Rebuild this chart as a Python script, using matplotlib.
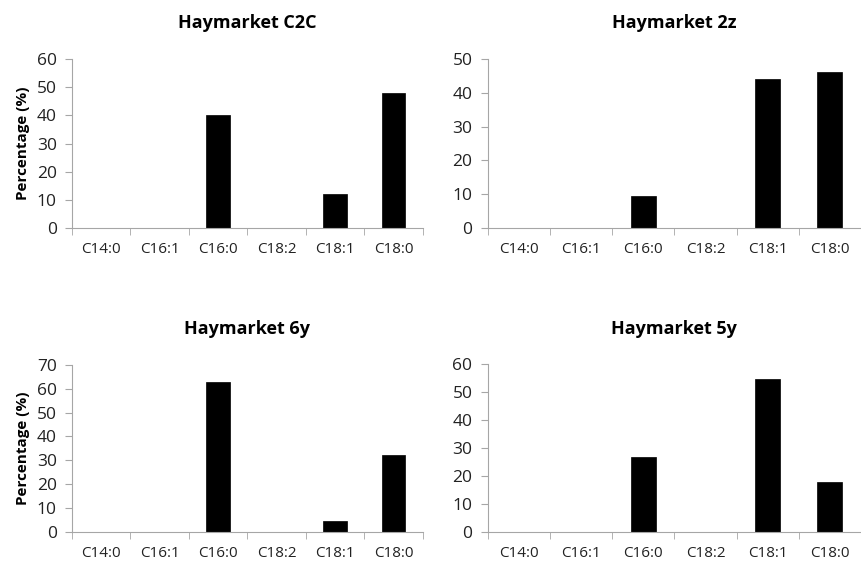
import numpy as np
import matplotlib.pyplot as plt

plt.rcParams['font.family'] = ['Open Sans', 'DejaVu Sans']

categories = ['C14:0', 'C16:1', 'C16:0', 'C18:2', 'C18:1', 'C18:0']

titles = ['Haymarket C2C', 'Haymarket 2z', 'Haymarket 6y', 'Haymarket 5y']
c2c = [0, 0, 40.3, 0, 12.0, 47.8]
z2 = [0, 0, 9.6, 0, 44.1, 46.3]
y6 = [0, 0, 62.8, 0, 4.6, 32.4]
y5 = [0, 0, 26.8, 0, 54.9, 18.1]
ymax = [60, 50, 70, 60]
ylabel_on = [True, False, True, False]

# axes boxes in figure fractions (left, bottom, width, height)
boxes = [(0.0835, 0.5965, 0.407, 0.299),
         (0.5658, 0.5965, 0.433, 0.299),
         (0.0835, 0.0590, 0.407, 0.295),
         (0.5658, 0.0580, 0.433, 0.297)]

fig = plt.figure(figsize=(8.62, 5.65), dpi=100)
grey = '#a6a6a6'

for vals, title, top, lab, box in zip([c2c, z2, y6, y5], titles, ymax, ylabel_on, boxes):
    ax = fig.add_axes(box)
    x = np.arange(len(categories))
    ax.bar(x, vals, width=0.4, color='black', edgecolor='black', linewidth=0.5)
    ax.set_xlim(-0.5, len(categories) - 0.5)
    ax.set_ylim(0, top)
    ax.set_yticks(np.arange(0, top + 1, 10))
    ax.set_xticks(x)
    ax.set_xticklabels(categories)
    ax.set_xticks(np.arange(-0.5, len(categories), 1), minor=True)
    ax.tick_params(axis='x', which='major', length=0, pad=10, labelsize=11, colors='#222222')
    ax.tick_params(axis='x', which='minor', length=5, color=grey, direction='out')
    ax.tick_params(axis='y', length=5, color=grey, direction='out', labelsize=12.5,
                   labelcolor='#222222', pad=6)
    for s in ['top', 'right']:
        ax.spines[s].set_visible(False)
    ax.spines['left'].set_color(grey)
    ax.spines['bottom'].set_color(grey)
    ax.set_title(title, fontsize=13, fontweight='bold', pad=22)
    if lab:
        ax.set_ylabel('Percentage (%)', fontsize=11, fontweight='bold', labelpad=5)

fig.savefig('out.png', dpi=100)
